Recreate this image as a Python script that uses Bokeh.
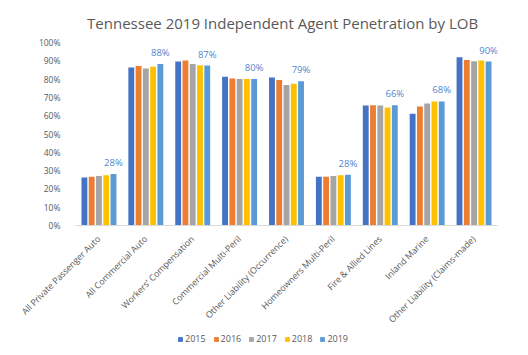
from bokeh.plotting import figure
from bokeh.models import (ColumnDataSource, Range1d, NumeralTickFormatter, Legend, LegendItem)
from bokeh.layouts import column
from bokeh.transform import dodge
from bokeh.core.properties import value
from bokeh.embed import file_html
from bokeh.resources import INLINE
import math

categories = ["All Private Passenger Auto", "All Commercial Auto", "Workers' Compensation",
              "Commercial Multi-Peril", "Other Liability (Occurrence)", "Homeowners Multi-Peril",
              "Fire & Allied Lines", "Inland Marine", "Other Liability (Claims-made)"]
years = ["2015", "2016", "2017", "2018", "2019"]
v2015 = [26.2, 86.4, 89.6, 81.3, 80.9, 26.7, 65.6, 61.1, 92.0]
v2016 = [26.7, 87.1, 90.2, 80.3, 79.5, 26.7, 65.7, 65.0, 90.5]
v2017 = [27.1, 85.8, 88.2, 80.0, 76.8, 27.1, 65.6, 66.7, 89.8]
v2018 = [27.5, 86.7, 87.6, 80.0, 77.5, 27.5, 64.5, 67.8, 90.2]
v2019 = [28.2, 88.2, 87.4, 80.0, 78.8, 27.8, 65.7, 67.8, 89.6]
colors = ["#4472C4", "#ED7D31", "#A5A5A5", "#FFC000", "#5B9BD5"]

series = [v2015, v2016, v2017, v2018, v2019]
data = {"cat": categories}
for y, s in zip(years, series):
    data["y" + y] = [v / 100 for v in s]
data["label"] = ["%d%%" % round(v) for v in v2019]
src = ColumnDataSource(data)

FONT = "Open Sans"
GRAY = "#595959"

p = figure(width=528, height=333, x_range=categories, y_range=Range1d(0, 1),
           output_backend="svg", toolbar_location=None,
           min_border_left=75, min_border_right=31, min_border_bottom=108, min_border_top=0)
p.title.text = "Tennessee  2019 Independent  Agent Penetration by LOB"
p.title.align = "center"
p.title.text_font = FONT
p.title.text_font_size = "15px"
p.title.text_font_style = "normal"
p.title.text_color = GRAY
p.title.standoff = 20

pitch = 0.155
width = 0.125
renderers = []
for i, y in enumerate(years):
    off = (i - 2) * pitch
    r = p.vbar(x=dodge("cat", off, range=p.x_range), top="y" + y, width=width,
               source=src, color=colors[i], line_color=None)
    renderers.append(r)

p.text(x=dodge("cat", 2 * pitch, range=p.x_range), y="y2019", text="label", source=src,
       text_font=value(FONT), text_font_size="9.5px", text_color="#4F86CF",
       text_align="center", text_baseline="bottom", y_offset=-5)

p.xgrid.visible = False
p.ygrid.visible = False
p.outline_line_color = None

p.yaxis.ticker = [i / 10 for i in range(11)]
p.yaxis.formatter = NumeralTickFormatter(format="0%")
p.yaxis.axis_line_color = None
p.yaxis.major_tick_line_color = None
p.yaxis.minor_tick_line_color = None
p.yaxis.major_label_text_font = FONT
p.yaxis.major_label_text_font_size = "8.5px"
p.yaxis.major_label_text_color = GRAY
p.yaxis.major_label_standoff = 9

p.xaxis.axis_line_color = "#D9D9D9"
p.xaxis.major_tick_line_color = None
p.xaxis.minor_tick_line_color = None
p.xaxis.major_label_orientation = math.pi / 4
p.xaxis.major_label_text_font = FONT
p.xaxis.major_label_text_font_size = "8.8px"
p.xaxis.major_label_text_color = GRAY
p.xaxis.major_label_standoff = 6

# legend strip
lf = figure(width=528, height=22, x_range=Range1d(0, 1), y_range=Range1d(0, 1),
            output_backend="svg", toolbar_location=None,
            min_border_left=0, min_border_right=0, min_border_top=0, min_border_bottom=0)
lf.axis.visible = False
lf.grid.visible = False
lf.outline_line_color = None
lrs = []
for i, y in enumerate(years):
    lrs.append(lf.vbar(x=[-5], top=[0], width=0.1, color=colors[i], line_color=None))
legend = Legend(items=[LegendItem(label=y, renderers=[r]) for y, r in zip(years, lrs)],
                orientation="horizontal", location=(102, 10),
                glyph_width=6, glyph_height=6, label_standoff=2, spacing=7, padding=0,
                margin=0,
                label_text_font=FONT, label_text_font_size="9px", label_text_color=GRAY,
                border_line_color=None, background_fill_alpha=0)
lf.add_layout(legend, "center")

layout = column(p, lf, spacing=0)
open("out.html", "w").write(file_html(layout, INLINE))
